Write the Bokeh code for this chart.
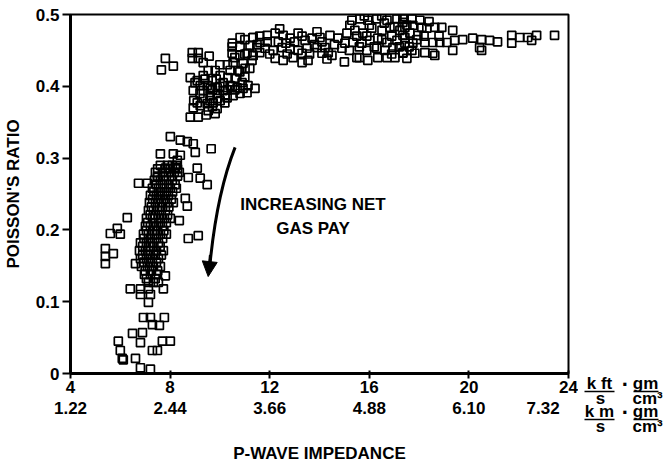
from bokeh.plotting import figure
from bokeh.models import Range1d, LinearAxis, FixedTicker, Label, Arrow, NormalHead
from bokeh.layouts import row, column
from bokeh.core.properties import value
from bokeh.embed import file_html
from bokeh.resources import INLINE

# ---------------- data ----------------
# low-impedance gas sands (sparse points)
low_imp = [8.01, 8.41, 8.69, 8.93, 9.65, 7.61, 8.13, 8.41, 9.01, 8.29, 7.81, 8.21, 9.09, 8.73,
           9.21, 9.49, 6.73, 7.09, 7.49, 8.61, 8.69, 6.28, 8.37, 5.60, 5.88, 6.00, 5.40, 5.40,
           5.40, 5.72, 8.73, 9.13, 6.61, 7.81, 6.40, 6.81, 7.13, 7.73, 6.81, 7.21, 7.13, 6.93,
           7.21, 7.77, 7.29, 7.57, 6.49, 6.89, 6.81, 7.69, 8.01, 5.92, 6.00, 7.29, 7.49, 6.08,
           6.12, 6.61, 6.81, 7.21]
low_pr = [0.330, 0.325, 0.323, 0.320, 0.313, 0.306, 0.306, 0.304, 0.308, 0.297, 0.286, 0.287,
          0.286, 0.273, 0.272, 0.263, 0.265, 0.265, 0.273, 0.244, 0.233, 0.217, 0.213, 0.195,
          0.202, 0.194, 0.174, 0.163, 0.153, 0.167, 0.188, 0.192, 0.153, 0.136, 0.118, 0.118,
          0.118, 0.118, 0.110, 0.110, 0.099, 0.078, 0.078, 0.078, 0.068, 0.067, 0.056, 0.057,
          0.043, 0.045, 0.045, 0.045, 0.032, 0.032, 0.032, 0.021, 0.019, 0.021, 0.008, 0.006]

# dense column of gas sands
column_imp = [7.61, 7.89, 8.09, 8.25, 7.50, 7.80, 8.00, 8.30,
              7.41, 7.69, 7.93, 8.17, 8.37, 7.50, 7.75, 8.05, 8.30,
              7.37, 7.61, 7.85, 8.09, 7.45, 7.70, 7.95, 8.20,
              7.29, 7.53, 7.77, 8.01, 8.25, 7.35, 7.60, 7.85, 8.10,
              7.21, 7.45, 7.69, 7.93, 7.30, 7.55, 7.80, 8.05,
              7.17, 7.41, 7.65, 7.89, 8.13, 7.25, 7.50, 7.70, 7.95,
              7.13, 7.33, 7.57, 7.81, 7.20, 7.40, 7.65, 7.90,
              7.05, 7.29, 7.53, 7.77, 8.01, 7.10, 7.35, 7.60, 7.85,
              7.01, 7.21, 7.45, 7.69, 7.05, 7.30, 7.50, 7.75,
              6.93, 7.13, 7.37, 7.61, 7.85, 6.95, 7.20, 7.45, 7.70,
              6.81, 7.05, 7.29, 7.53, 6.90, 7.15, 7.35, 7.60,
              6.77, 7.01, 7.21, 7.45, 7.73, 6.90, 7.15, 7.40, 7.65,
              6.81, 7.05, 7.29, 7.53, 6.95, 7.20, 7.45,
              6.85, 7.09, 7.33, 7.61, 7.00, 7.25, 7.50,
              6.97, 7.21, 7.45, 7.05, 7.40,
              7.13, 7.33, 7.53]
column_pr = [0.290, 0.290, 0.290, 0.290, 0.285, 0.285, 0.285, 0.285,
             0.280, 0.280, 0.280, 0.280, 0.280, 0.275, 0.275, 0.275, 0.275,
             0.269, 0.269, 0.269, 0.269, 0.263, 0.263, 0.263, 0.263,
             0.258, 0.258, 0.258, 0.258, 0.258, 0.253, 0.253, 0.253, 0.253,
             0.248, 0.248, 0.248, 0.248, 0.243, 0.243, 0.243, 0.243,
             0.238, 0.238, 0.238, 0.238, 0.238, 0.232, 0.232, 0.232, 0.232,
             0.227, 0.227, 0.227, 0.227, 0.221, 0.221, 0.221, 0.221,
             0.216, 0.216, 0.216, 0.216, 0.216, 0.210, 0.210, 0.210, 0.210,
             0.205, 0.205, 0.205, 0.205, 0.199, 0.199, 0.199, 0.199,
             0.194, 0.194, 0.194, 0.194, 0.194, 0.188, 0.188, 0.188, 0.188,
             0.182, 0.182, 0.182, 0.182, 0.177, 0.177, 0.177, 0.177,
             0.171, 0.171, 0.171, 0.171, 0.171, 0.165, 0.165, 0.165, 0.165,
             0.160, 0.160, 0.160, 0.160, 0.155, 0.155, 0.155,
             0.149, 0.149, 0.149, 0.149, 0.143, 0.143, 0.143,
             0.138, 0.138, 0.138, 0.132, 0.132,
             0.127, 0.127, 0.127]

# transition cluster
mid_imp = [7.81, 7.65, 8.13, 8.89, 9.13, 8.89, 9.13, 9.57, 9.33, 10.81, 11.33, 10.49, 10.81,
           11.21, 11.49, 10.49, 10.81, 11.09, 11.33, 10.53, 10.93, 11.29, 10.41, 10.73, 11.01,
           8.81, 9.09, 9.33, 9.53, 9.81, 10.01, 9.69, 9.49, 9.21, 8.93, 9.33, 9.61, 9.89, 10.13,
           10.33, 10.61, 10.89, 11.13, 11.41, 10.93, 10.69, 10.41, 10.13, 9.89, 9.61, 9.33, 9.09,
           8.93, 9.21, 9.49, 9.73, 10.01, 10.29, 10.53, 10.81, 11.09, 9.89, 9.53, 8.81, 9.13,
           9.81, 10.21,
           9.00, 9.40, 9.70, 10.00, 10.30, 10.60, 9.20, 9.60, 9.90, 10.20, 10.50, 10.80, 11.00,
           10.00, 10.30, 10.60, 11.00, 11.20, 9.45, 9.70, 8.95, 9.85, 10.50, 11.00, 11.60]
mid_pr = [0.439, 0.423, 0.428, 0.447, 0.447, 0.439, 0.439, 0.442, 0.433, 0.468, 0.468, 0.455,
          0.455, 0.457, 0.458, 0.446, 0.443, 0.446, 0.443, 0.433, 0.432, 0.436, 0.422, 0.422,
          0.425, 0.412, 0.408, 0.415, 0.422, 0.422, 0.415, 0.408, 0.401, 0.401, 0.394, 0.394,
          0.397, 0.398, 0.405, 0.412, 0.411, 0.405, 0.401, 0.397, 0.397, 0.398, 0.401, 0.394,
          0.390, 0.387, 0.383, 0.377, 0.370, 0.373, 0.376, 0.377, 0.380, 0.384, 0.387, 0.390,
          0.391, 0.369, 0.366, 0.357, 0.357, 0.362, 0.387,
          0.405, 0.410, 0.395, 0.400, 0.395, 0.395, 0.390, 0.380, 0.383, 0.377, 0.400, 0.420,
          0.413, 0.430, 0.430, 0.440, 0.445, 0.425, 0.360, 0.372, 0.380, 0.410, 0.460, 0.465,
          0.470]

# high-impedance band
high_imp = [11.33, 11.33, 11.61, 11.90, 12.22, 12.54, 12.82, 13.14, 13.42, 13.70, 14.02, 14.42,
            11.82, 12.14, 12.50, 12.82, 13.14, 13.50, 13.90, 14.22, 14.50, 12.22, 12.54, 12.94,
            13.30, 13.54, 14.10, 11.49, 14.74, 14.90,
            15.30, 15.62, 15.94, 16.30, 16.71, 17.11, 17.35, 15.10, 15.42, 15.74, 16.10, 16.51,
            16.83, 17.23, 17.51, 15.02, 15.34, 15.70, 16.02, 16.34, 16.71, 17.11, 17.43, 15.90,
            16.30, 16.63, 16.95, 17.35, 15.94, 16.34, 16.71, 17.03, 15.22,
            17.35, 17.71, 18.03, 17.43, 17.75, 18.11, 17.35, 17.63, 17.95, 17.43, 17.75, 17.35,
            17.71, 17.51, 17.83, 18.31, 18.63, 18.91, 19.35, 18.23, 18.55, 18.83, 19.11, 19.43,
            19.75, 18.23, 18.55, 18.63, 19.35, 20.15, 20.51, 20.83, 21.15, 20.43, 20.51, 21.72,
            22.04, 22.36, 22.72, 21.72, 22.52, 23.44,
            11.60, 11.90, 12.00, 12.35, 12.70, 12.65, 13.00, 13.30, 13.30, 13.60, 13.80, 14.10,
            14.30, 14.60, 14.35, 12.40, 13.90,
            15.50, 15.90, 16.20, 16.50, 16.90, 17.20, 15.60, 16.00, 16.60, 17.00, 15.20, 15.50,
            16.90, 17.60, 17.90, 18.20, 18.40, 18.80, 15.80, 16.50, 17.40, 15.00, 15.60]
high_pr = [0.468, 0.443, 0.461, 0.471, 0.474, 0.471, 0.467, 0.474, 0.464, 0.467, 0.468, 0.471,
           0.453, 0.450, 0.454, 0.453, 0.450, 0.453, 0.454, 0.454, 0.443, 0.439, 0.436, 0.440,
           0.433, 0.436, 0.446, 0.454, 0.467, 0.453,
           0.492, 0.494, 0.492, 0.494, 0.492, 0.494, 0.489, 0.474, 0.478, 0.474, 0.481, 0.478,
           0.482, 0.478, 0.485, 0.460, 0.461, 0.460, 0.464, 0.467, 0.461, 0.464, 0.468, 0.450,
           0.453, 0.450, 0.454, 0.446, 0.436, 0.440, 0.440, 0.440, 0.485,
           0.494, 0.494, 0.492, 0.482, 0.485, 0.482, 0.471, 0.474, 0.471, 0.460, 0.460, 0.447,
           0.450, 0.439, 0.446, 0.481, 0.482, 0.482, 0.478, 0.461, 0.461, 0.461, 0.461, 0.464,
           0.465, 0.447, 0.446, 0.443, 0.450, 0.467, 0.465, 0.464, 0.462, 0.454, 0.450, 0.471,
           0.468, 0.468, 0.471, 0.460, 0.464, 0.471,
           0.447, 0.462, 0.445, 0.462, 0.445, 0.460, 0.462, 0.446, 0.470, 0.445, 0.458, 0.462,
           0.438, 0.458, 0.447, 0.480, 0.476,
           0.470, 0.470, 0.455, 0.465, 0.470, 0.455, 0.455, 0.485, 0.488, 0.483, 0.450, 0.440,
           0.445, 0.455, 0.465, 0.470, 0.490, 0.470, 0.498, 0.498, 0.497, 0.434, 0.440]

x_ticks = [4, 8, 12, 16, 20, 24]
metric_tick_labels = ["1.22", "2.44", "3.66", "4.88", "6.10", "7.32"]
y_ticks = [0, 0.1, 0.2, 0.3, 0.4, 0.5]
y_tick_labels = ["0", "0.1", "0.2", "0.3", "0.4", "0.5"]

# unit fractions shown right of the tick rows
unit_numerators = ["k ft", "k m"]
unit_denominator = "s"
density_numerator = "gm"
density_denominator = "cm³"

# ---------------- figure ----------------
FONT = "Liberation Sans"
NBSP = "\u00a0"

p = figure(width=578, height=469, output_backend="svg", toolbar_location=None,
           x_range=Range1d(4, 24), y_range=Range1d(0, 0.5),
           min_border_left=70, min_border_right=10, min_border_top=14, min_border_bottom=96)
p.grid.visible = False
p.outline_line_color = "black"
p.outline_line_width = 2
p.background_fill_color = "white"
p.border_fill_color = "white"

for xs, ys in [(low_imp, low_pr), (column_imp, column_pr), (mid_imp, mid_pr), (high_imp, high_pr)]:
    p.scatter(xs, ys, marker="square", size=8, fill_color=None, line_color="black", line_width=1.7)

# y axis
ya = p.yaxis[0]
ya.ticker = FixedTicker(ticks=y_ticks)
ya.major_label_overrides = {t: l for t, l in zip(y_ticks, y_tick_labels)}
ya.axis_label = "POISSON'S RATIO"
ya.axis_line_width = 3
ya.major_tick_line_width = 2
ya.major_tick_in = 0
ya.major_tick_out = 8
ya.minor_tick_line_color = None
ya.major_label_standoff = 3
ya.axis_label_standoff = 10

# primary x axis (kft/s * g/cm3)
xa = p.xaxis[0]
xa.ticker = FixedTicker(ticks=x_ticks)
xa.axis_line_width = 3
xa.major_tick_line_width = 2
xa.major_tick_in = 3
xa.major_tick_out = 5
xa.minor_tick_line_color = None
xa.major_label_standoff = 2

# metric axis (last label pushed left to leave room for the units)
metric_overrides = {t: l for t, l in zip(x_ticks, metric_tick_labels)}
metric_overrides[x_ticks[-1]] = metric_tick_labels[-1] + NBSP * 4
xm = LinearAxis(ticker=FixedTicker(ticks=x_ticks),
                major_label_overrides=metric_overrides,
                axis_line_color=None, major_tick_line_color=None, minor_tick_line_color=None,
                major_tick_in=0, major_tick_out=0, major_label_standoff=3,
                axis_label="P-WAVE IMPEDANCE", axis_label_standoff=23)
p.add_layout(xm, "below")

for ax in [ya, xa, xm]:
    ax.major_label_text_font = FONT
    ax.major_label_text_font_style = "bold"
    ax.major_label_text_font_size = "17px"
    ax.major_label_text_color = "black"
    ax.axis_label_text_font = FONT
    ax.axis_label_text_font_style = "bold"
    ax.axis_label_text_font_size = "17px"
    ax.axis_label_text_color = "black"
    ax.axis_line_color = "black" if ax is not xm else None
    ax.major_tick_line_color = "black" if ax is not xm else None

# curved arrow "increasing net gas pay"
p.quadratic(x0=[10.61], y0=[0.315], x1=[9.61], y1=[0.155], cx=[9.89], cy=[0.252],
            line_color="black", line_width=3)
p.add_layout(Arrow(end=NormalHead(size=15, fill_color="black", line_color="black"),
                   x_start=9.62, y_start=0.165, x_end=9.53, y_end=0.135,
                   line_color="black", line_width=3))

for txt, yy in [("INCREASING NET", 0.235), ("GAS PAY", 0.202)]:
    p.add_layout(Label(x=13.74, y=yy, text=txt, text_align="center", text_baseline="middle",
                       text_font=FONT, text_font_style="bold", text_font_size="17px",
                       text_color="black"))

# ---------------- unit fractions (right strip) ----------------
u = figure(width=85, height=469, output_backend="svg", toolbar_location=None,
           x_range=Range1d(0, 85), y_range=Range1d(0, 469), min_border=0,
           x_axis_location=None, y_axis_location=None)
u.grid.visible = False
u.outline_line_color = None
u.background_fill_color = "white"
u.border_fill_color = "white"

def utext(xs, ys, ts, align="center", size="17px"):
    u.text(x=xs, y=ys, text=ts, text_align=align, text_baseline="middle",
           text_font=value(FONT), text_font_style="bold", text_font_size=size,
           text_color="black")

for num, yrow in zip(unit_numerators, [86, 58]):
    utext([21, 67], [yrow, yrow], [num, density_numerator])
    utext([47], [yrow - 1], ["·"], size="22px")
    utext([22], [yrow - 15], [unit_denominator])
    utext([54], [yrow - 15], [density_denominator], align="left")
    u.segment(x0=[6, 55], y0=[yrow - 8, yrow - 8], x1=[36, 80], y1=[yrow - 8, yrow - 8],
              line_color="black", line_width=1.5)

layout = row(p, column(u))
open("out.html", "w").write(file_html(layout, INLINE))
